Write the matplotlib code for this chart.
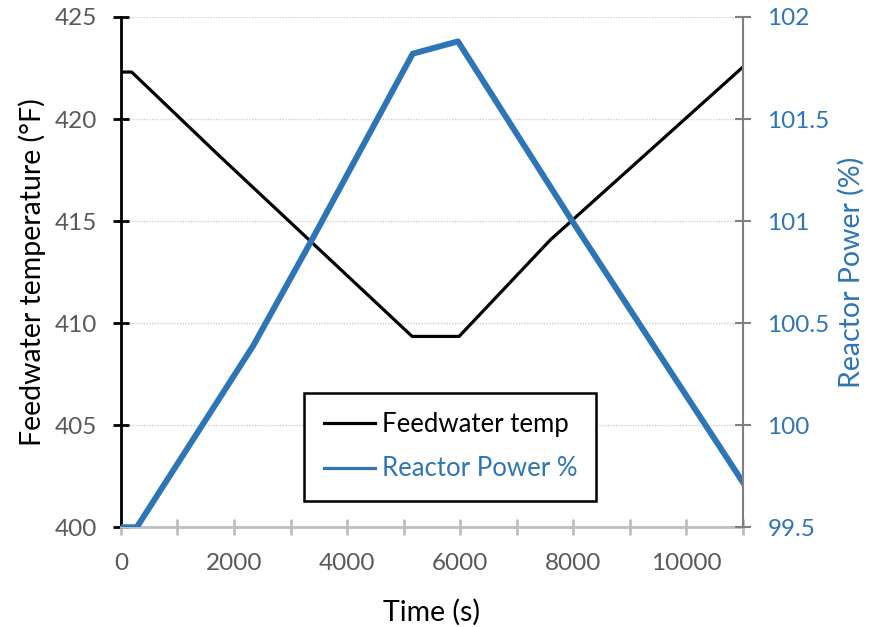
import matplotlib.pyplot as plt
from matplotlib.lines import Line2D
from matplotlib.ticker import MultipleLocator

plt.rcParams['font.family'] = ['Lato', 'DejaVu Sans']

# Feedwater temperature (deg F) vs time (s), breakpoints
temp_time = [0, 190, 1700, 5150, 5980, 7590, 11000]
temp_vals = [422.3, 422.3, 418.3, 409.35, 409.35, 414.07, 422.55]

# Reactor power (%) vs time (s)
power_time = [0, 280, 2340, 3400, 5160, 5960, 7980, 11000]
power_vals = [99.5, 99.5, 100.39, 100.92, 101.82, 101.88, 101.0, 99.72]

blue = '#2e75b6'
gray_txt = '#595959'

fig = plt.figure(figsize=(8.7, 6.27), dpi=100)
ax = fig.add_axes([0.139, 0.159, 0.715, 0.814])
ax2 = ax.twinx()

ax.plot(temp_time, temp_vals, color='black', lw=2.3, solid_joinstyle='round')
ax2.plot(power_time, power_vals, color=blue, lw=4.3, solid_joinstyle='round')

ax.set_xlim(0, 11000)
ax.set_ylim(400, 425)
ax2.set_ylim(99.5, 102)
ax.yaxis.set_major_locator(MultipleLocator(5))
ax.xaxis.set_major_locator(MultipleLocator(2000))
ax.xaxis.set_minor_locator(MultipleLocator(1000))
ax2.set_yticks([99.5, 100, 100.5, 101, 101.5, 102])
ax2.set_yticklabels(['99.5', '100', '100.5', '101', '101.5', '102'])

ax.grid(axis='y', color='#d0d0d0', lw=1, ls=(0, (1, 1)))
ax.set_axisbelow(True)

for a in (ax, ax2):
    a.spines['top'].set_visible(False)
ax.spines['right'].set_visible(False)
ax2.spines['left'].set_visible(False)
ax2.spines['bottom'].set_visible(False)
ax.spines['left'].set_color('black')
ax.spines['left'].set_linewidth(2)
ax.spines['bottom'].set_color('#bfbfbf')
ax.spines['bottom'].set_linewidth(2)
ax2.spines['right'].set_color('#808080')
ax2.spines['right'].set_linewidth(1.5)

ax.tick_params(axis='y', direction='inout', length=11, width=2, color='black',
               labelsize=17.5, labelcolor=gray_txt, pad=12)
ax.tick_params(axis='x', which='both', direction='inout', length=11, width=2,
               color='#bfbfbf', labelsize=17.5, labelcolor=gray_txt, pad=13)
ax2.tick_params(axis='y', direction='inout', length=11, width=1.5, color='#808080',
                labelsize=17.5, labelcolor=blue, pad=12)

ax.set_xlabel('Time (s)', fontsize=20.5, color='black', labelpad=18)
ax.set_ylabel('Feedwater temperature (°F)', fontsize=20.5, color='black', labelpad=6)
ax2.set_ylabel('Reactor Power (%)', fontsize=20.5, color=blue, labelpad=6)

handles = [Line2D([], [], color='black', lw=2.3), Line2D([], [], color=blue, lw=2.3)]
leg = ax2.legend(handles, ['Feedwater temp', 'Reactor Power %'], loc='lower left',
                 bbox_to_anchor=(0.295, 0.052), fontsize=18.5, frameon=True, fancybox=False,
                 framealpha=1, handlelength=2.0, handletextpad=0.25, borderpad=0.75,
                 labelspacing=0.75, borderaxespad=0)
leg.get_frame().set_edgecolor('black')
leg.get_frame().set_linewidth(1.8)
leg.get_texts()[1].set_color(blue)

fig.savefig('out.png', dpi=100)
